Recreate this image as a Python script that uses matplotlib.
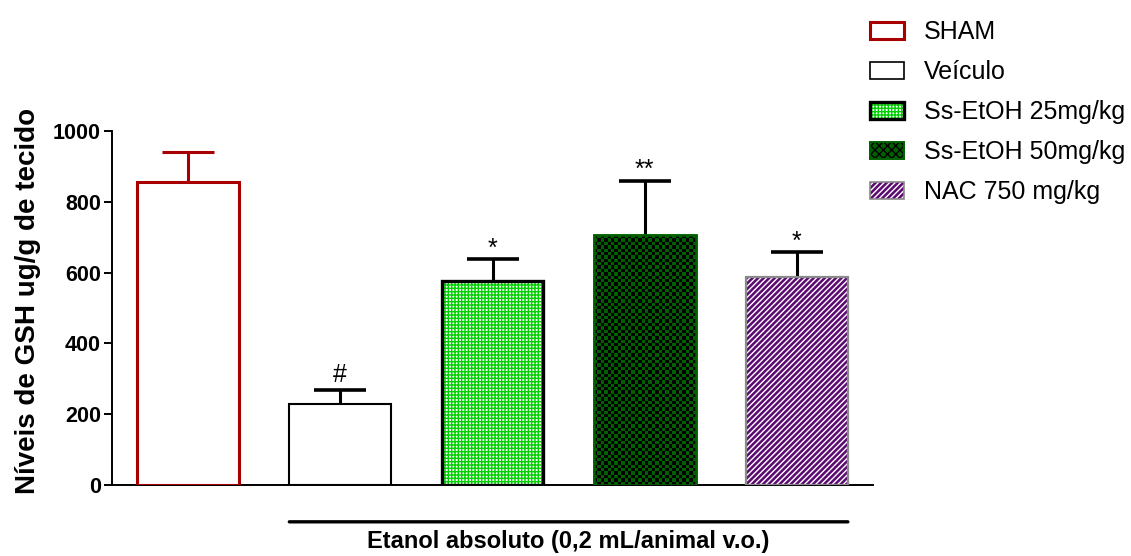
import numpy as np
import matplotlib
matplotlib.use("Agg")
import matplotlib.pyplot as plt
from matplotlib.patches import Patch
from matplotlib.colors import ListedColormap

# values
groups = ["SHAM", "Veículo", "Ss-EtOH 25mg/kg", "Ss-EtOH 50mg/kg", "NAC 750 mg/kg"]
means = [856, 229, 576, 706, 587]
errors = [85, 39, 62, 153, 71]
marks = ["", "#", "*", "**", "*"]
yticks = [0, 200, 400, 600, 800, 1000]

plt.rcParams['font.family'] = ['Liberation Sans', 'DejaVu Sans']
plt.rcParams['hatch.linewidth'] = 1.0

red = "#a80000"
green = "#00d000"
dkgreen = "#006000"
purple = "#5c0a72"

fig = plt.figure(figsize=(11.31, 5.56), dpi=100)
ax = fig.add_axes([112 / 1131, 1 - 485 / 556, (873 - 112) / 1131, (485 - 131) / 556])

x = np.arange(len(groups))
w = 0.67

# SHAM and Veiculo: plain white bars
ax.bar(x[0], means[0], w, facecolor="white", edgecolor=red, linewidth=2.2, zorder=3)
ax.bar(x[1], means[1], w, facecolor="white", edgecolor="black", linewidth=1.5, zorder=3)

# Ss-EtOH 25: green grid on white, black frame
ax.bar(x[2], means[2], w, facecolor="white", edgecolor=green, hatch="+++++", linewidth=0, zorder=3)
ax.bar(x[2], means[2], w, fill=False, edgecolor="black", linewidth=2.4, zorder=4)

# Ss-EtOH 50: green / black checker, clipped to the bar
b50 = ax.bar(x[3], means[3], w, facecolor=dkgreen, edgecolor=dkgreen, linewidth=1.8, zorder=3)
ncol = 30
nrow = int(round(means[3] * 0.354 / 3.37))
checker = (np.add.outer(np.arange(nrow), np.arange(ncol)) % 2)
im = ax.imshow(checker, cmap=ListedColormap(["black", dkgreen]), aspect="auto",
               interpolation="nearest", extent=(x[3] - w / 2, x[3] + w / 2, 0, means[3]),
               zorder=3.5)
im.set_clip_path(b50.patches[0])
ax.bar(x[3], means[3], w, fill=False, edgecolor=dkgreen, linewidth=1.8, zorder=4)

# NAC: purple with white diagonal lines, gray frame
ax.bar(x[4], means[4], w, facecolor=purple, edgecolor="white", hatch="//////", linewidth=0, zorder=3)
ax.bar(x[4], means[4], w, fill=False, edgecolor="#8a8a8a", linewidth=1.6, zorder=4)

# upper error bars only
for i in range(len(groups)):
    col = red if i == 0 else "black"
    _, caps, _ = ax.errorbar(x[i], means[i], yerr=[[0], [errors[i]]], fmt="none", ecolor=col,
                             elinewidth=2.2, capsize=19, capthick=2.6 if i else 2.2, zorder=2)
    caps[0].set_visible(False)
    if marks[i]:
        off = 2 if marks[i] == "#" else -1
        ax.annotate(marks[i], (x[i], means[i] + errors[i]), xytext=(0, off),
                    textcoords="offset points", ha="center", va="bottom", fontsize=18)

ax.set_xlim(-0.5, 4.5)
ax.set_ylim(0, 1000)
ax.set_yticks(yticks)
ax.set_yticklabels([str(t) for t in yticks], fontsize=15.5, fontweight="bold")
ax.set_xticks([])
for s in ["top", "right"]:
    ax.spines[s].set_visible(False)
ax.spines["left"].set_linewidth(1.4)
ax.spines["bottom"].set_linewidth(1.4)
ax.tick_params(axis="y", length=6, width=1.4, pad=2)
ax.set_ylabel("Níveis de GSH ug/g de tecido", fontsize=20, fontweight="bold")
ax.yaxis.set_label_coords(-0.093, 0.52)

# group line under the treated bars
ax.annotate("", xy=(x[1] - w / 2, -0.104), xytext=(x[4] + w / 2, -0.104),
            xycoords=("data", "axes fraction"), textcoords=("data", "axes fraction"),
            arrowprops=dict(arrowstyle="-", lw=2.4, color="black", shrinkA=0, shrinkB=0))
ax.text((x[1] + x[4]) / 2, -0.178, "Etanol absoluto (0,2 mL/animal v.o.)",
        transform=ax.get_xaxis_transform(), ha="center", va="baseline",
        fontsize=17, fontweight="bold")

# legend
handles = [
    Patch(facecolor="white", edgecolor=red, linewidth=2.2),
    Patch(facecolor="white", edgecolor="black", linewidth=1.2),
    (Patch(facecolor="white", edgecolor=green, hatch="+++++", linewidth=0),
     Patch(fill=False, edgecolor="black", linewidth=2.4)),
    (Patch(facecolor=dkgreen, edgecolor="black", hatch="xxxx", linewidth=0),
     Patch(fill=False, edgecolor=dkgreen, linewidth=1.4)),
    (Patch(facecolor=purple, edgecolor="white", hatch="//////", linewidth=0),
     Patch(fill=False, edgecolor="#8a8a8a", linewidth=1.2)),
]
fig.legend(handles, groups, loc="upper left", bbox_to_anchor=(870 / 1131, 1 - 20 / 556),
           frameon=False, fontsize=18, borderpad=0, handlelength=1.36, handleheight=0.68,
           handletextpad=0.8, labelspacing=0.64, borderaxespad=0)

fig.savefig("out.png", dpi=100)
